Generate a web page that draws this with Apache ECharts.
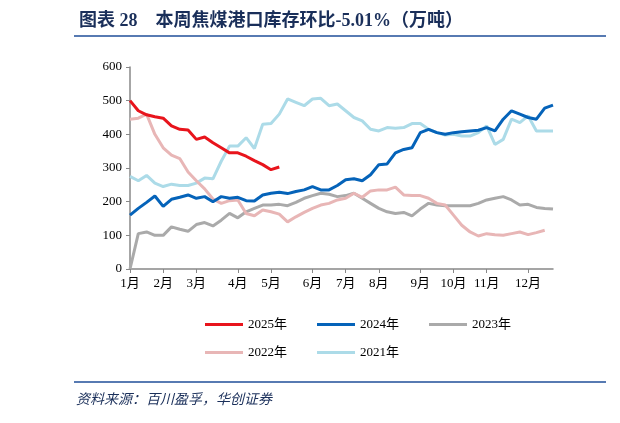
<!DOCTYPE html>
<html><head><meta charset="utf-8">
<script src="https://cdn.jsdelivr.net/npm/echarts@6/dist/echarts.min.js"></script>
<style>html,body{margin:0;padding:0;background:#fff}#c{width:620px;height:423px}</style>
</head><body><div id="c"></div>
<script>
// 周度数据，按周排列，月份标签放在每月首周
const weeks = Array.from({length:52},(_,i)=>i);
const monthStart = {0:'1月',4:'2月',8:'3月',13:'4月',17:'5月',22:'6月',26:'7月',30:'8月',35:'9月',39:'10月',43:'11月',48:'12月'};
const y2025 = [500,470,458,452,448,425,415,413,385,392,375,360,345,345,335,322,310,295,303];
const y2024 = [160,180,198,217,186,207,213,220,210,215,200,215,210,213,203,202,220,225,228,224,230,235,245,235,235,248,265,268,262,280,310,312,345,355,360,405,415,405,400,405,408,410,412,420,410,445,470,460,450,445,478,487];
const y2023 = [0,105,110,100,100,125,118,112,132,138,128,145,165,152,170,180,190,190,192,188,198,210,218,225,222,215,218,225,210,195,180,170,165,168,158,178,195,190,188,188,188,188,195,205,210,215,205,190,192,183,180,178];
const y2022 = [445,448,460,400,360,338,328,288,262,238,208,195,203,205,165,158,175,170,163,140,155,168,180,190,195,205,210,225,213,232,235,235,243,220,218,218,210,195,190,160,130,110,98,105,102,100,105,110,102,108,115];
const y2021 = [275,262,278,255,245,252,248,248,255,270,268,320,365,365,390,358,430,432,460,505,495,485,505,507,485,490,470,450,440,415,410,420,418,420,432,432,415,405,398,400,395,395,405,425,370,385,445,435,455,410,410,410];

const chart = echarts.init(document.getElementById('c'));
const font = '"Times New Roman","Liberation Serif","Noto Sans CJK SC",serif';
const mk = (name,data,color,z)=>({name,type:'line',data,showSymbol:false,z,lineStyle:{color,width:3},itemStyle:{color}});
chart.setOption({
  animation:false,
  title:{text:'图表 28    本周焦煤港口库存环比-5.01%（万吨）',left:74,top:7,
    textStyle:{color:'#1a2f5a',fontSize:18,fontWeight:'bold',fontFamily:font}},
  graphic:[
    {type:'line',shape:{x1:74,y1:36,x2:606,y2:36},style:{stroke:'#1f4e99',lineWidth:1.5}},
    {type:'line',shape:{x1:74,y1:382,x2:606,y2:382},style:{stroke:'#1f4e99',lineWidth:1.5}},
    {type:'text',left:76,top:393,style:{text:'资料来源：百川盈孚，华创证券',fill:'#1a2f5a',fontSize:14,fontStyle:'italic',fontFamily:font}}
  ],
  legend:[
    {data:['2025年','2024年','2023年'],top:313,left:200,itemGap:30,itemWidth:38,itemHeight:3,icon:'rect',textStyle:{fontFamily:font,fontSize:13,color:'#000'}},
    {data:['2022年','2021年'],top:341,left:200,itemGap:30,itemWidth:38,itemHeight:3,icon:'rect',textStyle:{fontFamily:font,fontSize:13,color:'#000'}}
  ],
  grid:{left:130,right:67,top:67,bottom:154},
  xAxis:{type:'category',data:weeks,boundaryGap:false,
    axisLine:{lineStyle:{color:'#888',width:1.5}},
    axisTick:{interval:(i)=>i in monthStart,inside:false,length:4,lineStyle:{color:'#888'}},
    axisLabel:{interval:(i)=>i in monthStart,formatter:(v)=>monthStart[v]||'',color:'#000',fontFamily:font,fontSize:13,margin:8}},
  yAxis:{type:'value',min:0,max:600,interval:100,splitLine:{show:false},
    axisLine:{show:true,lineStyle:{color:'#888',width:1.5}},axisTick:{show:true,length:4,inside:false,lineStyle:{color:'#888'}},
    axisLabel:{color:'#000',fontFamily:font,fontSize:13}},
  series:[
    mk('2025年',y2025,'#e8141c',10),
    mk('2024年',y2024,'#0563b9',9),
    mk('2023年',y2023,'#aaaaaa',6),
    mk('2022年',y2022,'#e8b6b6',7),
    mk('2021年',y2021,'#acdbe8',5)
  ]
});
</script></body></html>
